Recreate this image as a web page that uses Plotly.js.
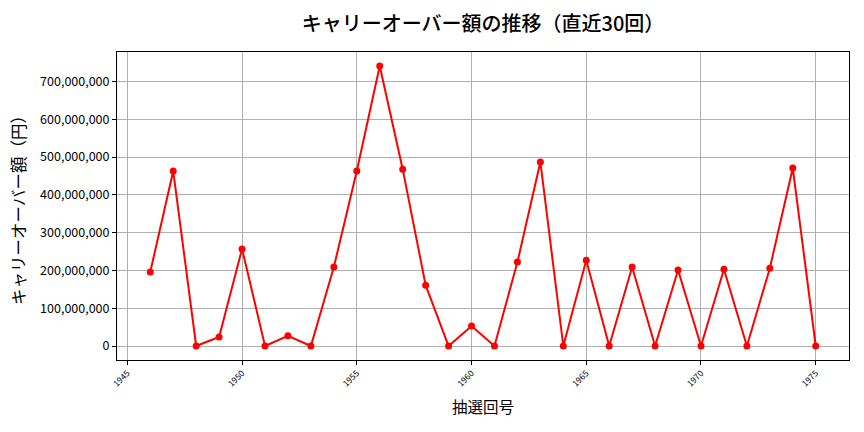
<!DOCTYPE html>
<html>
<head>
<meta charset="utf-8">
<script src="https://cdn.plot.ly/plotly-3.0.1.min.js"></script>
<style>html,body{margin:0;padding:0;background:#fff;}#chart{width:864px;height:432px;}</style>
</head>
<body>
<div id="chart"></div>
<script>
const draws = [1946,1947,1948,1949,1950,1951,1952,1953,1954,1955,1956,1957,1958,1959,1960,1961,1962,1963,1964,1965,1966,1967,1968,1969,1970,1971,1972,1973,1974,1975];
const carryover = [196000000,463000000,0,24000000,257000000,0,27000000,0,209000000,463000000,741000000,468000000,161000000,0,53000000,0,222000000,487000000,0,227000000,0,209000000,0,201000000,0,203000000,0,206000000,471000000,0];
const xTicks = [1945,1950,1955,1960,1965,1970,1975];
const yTicks = [0,100000000,200000000,300000000,400000000,500000000,600000000,700000000];
const yTickText = ['0','100,000,000','200,000,000','300,000,000','400,000,000','500,000,000','600,000,000','700,000,000'];

const font = '"Noto Sans CJK JP", "Noto Sans", sans-serif';
const trace = {
  x: draws, y: carryover, type: 'scatter', mode: 'lines+markers',
  line: {color: '#ff0000', width: 2},
  marker: {color: '#ff0000', size: 7},
  hoverinfo: 'skip'
};
const layout = {
  width: 864, height: 432,
  margin: {l: 117, r: 15, t: 52, b: 72},
  paper_bgcolor: '#fff', plot_bgcolor: '#fff',
  font: {family: font, color: '#000'},
  showlegend: false,
  title: {text: 'キャリーオーバー額の推移（直近30回）', xref: 'paper', x: 0.5, xanchor: 'center', yref: 'container', y: 0.945, yanchor: 'middle',
          font: {family: font, size: 20, color: '#000', weight: 500}},
  xaxis: {
    range: [1944.55, 1976.45], tickmode: 'array', tickvals: xTicks, ticktext: xTicks.map(String),
    tickangle: -45, tickfont: {size: 8.5, family: font}, ticks: 'outside', ticklen: 4, tickcolor: '#000',
    showgrid: true, gridcolor: '#b0b0b0', gridwidth: 1, zeroline: false,
    showline: true, linecolor: '#000', linewidth: 1, mirror: true,
    title: {text: '抽選回号', font: {size: 15.5, family: font}, standoff: 14}
  },
  yaxis: {
    range: [-37050000, 778050000], tickmode: 'array', tickvals: yTicks, ticktext: yTickText,
    tickfont: {size: 12.5, family: font}, ticks: 'outside', ticklen: 4, tickcolor: '#000',
    showgrid: true, gridcolor: '#b0b0b0', gridwidth: 1, zeroline: false,
    showline: true, linecolor: '#000', linewidth: 1, mirror: true,
    title: {text: 'キャリーオーバー額（円）', font: {size: 16.5, family: font}, standoff: 10}
  }
};
Plotly.newPlot('chart', [trace], layout, {staticPlot: true, displayModeBar: false});
</script>
</body>
</html>
